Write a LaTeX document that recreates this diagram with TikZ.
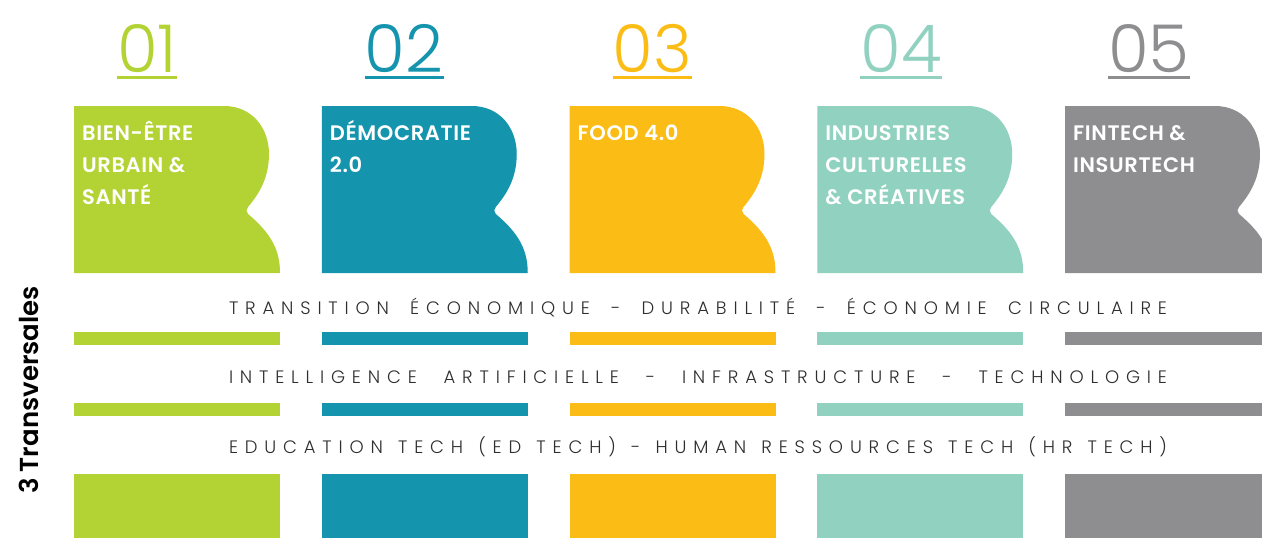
\documentclass[tikz,border=0pt]{standalone}
\usepackage{fontspec}
\setmainfont{Poppins}
\IfFontExistsTF{Poppins Light}{%
  \newfontfamily\numfont{Poppins Light}
  \newfontfamily\rowfont{Poppins Light}[LetterSpace=38]
}{%
  \newfontfamily\numfont{Poppins}
  \newfontfamily\rowfont{Poppins}[LetterSpace=38]
}
\IfFontExistsTF{Poppins SemiBold}{%
  \newfontfamily\lblfont{Poppins SemiBold}
  \newfontfamily\tagfont{Poppins SemiBold}[LetterSpace=3]
}{%
  \newcommand\lblfont{\bfseries}
  \newcommand\tagfont{\bfseries}
}
\definecolor{cgreen}{HTML}{B3D334}
\definecolor{cteal}{HTML}{1594AE}
\definecolor{cyellow}{HTML}{FBBC15}
\definecolor{cmint}{HTML}{91D1BF}
\definecolor{cgray}{HTML}{8E8E90}
\definecolor{rowgray}{HTML}{2E2E2E}
\begin{document}
\begin{tikzpicture}[x=1pt,y=-1pt,
    num/.style={font=\numfont\fontsize{66}{66}\selectfont,inner sep=0pt,anchor=base west},
    lbl/.style={font=\tagfont\fontsize{21}{32}\selectfont,text=white,inner sep=0pt,anchor=base west},
    row/.style={font=\rowfont\fontsize{18}{18}\selectfont,text=rowgray,inner sep=0pt,anchor=base},
    side/.style={font=\lblfont\fontsize{26}{26}\selectfont,rotate=90,inner sep=0pt}]
    \clip (0,0) rectangle (1262,538);
    %% Themes
    \foreach \i/\c/\t in {1/cgreen/{BIEN-ÊTRE\\URBAIN \&\\SANTÉ},
                          2/cteal/{DÉMOCRATIE\\2.0},
                          3/cyellow/{FOOD 4.0},
                          4/cmint/{INDUSTRIES\\CULTURELLES\\\& CRÉATIVES},
                          5/cgray/{FINTECH \&\\INSURTECH}}{
        \pgfmathsetmacro\x{74+247.75*(\i-1)}
        %% Number
        \node[num,text=\c] (n\i) at (\x+43,72) {0\i};
        \draw[\c,line width=3pt] ([yshift=-5pt]n\i.base west) -- ([yshift=-5pt]n\i.base east);
        %% Block
        \fill[\c,shift={(\x,106)}] (0,0) -- (150,0)
            .. controls (178,0) and (195,22) .. (195,48)
            .. controls (195,72) and (185,88) .. (174,101)
            .. controls (172,103) and (172,106) .. (174,108)
            .. controls (198,128) and (206,145) .. (206,167) -- (0,167) -- cycle;
        \node[lbl] (t\i) at (\x+8,140) {\begin{tabular}[t]{@{}l@{}}\t\end{tabular}};
        %% Bands
        \fill[\c] (\x,332) rectangle ++(206,13);
        \fill[\c] (\x,403) rectangle ++(206,13);
        \fill[\c] (\x,474) rectangle ++(206,70);
    }
    %% Transversal lines
    \node[row] (r1) at (698,314) {\makebox[938pt][s]{TRANSITION ÉCONOMIQUE - DURABILITÉ - ÉCONOMIE CIRCULAIRE}};
    \node[row] (r2) at (698,383) {\makebox[938pt][s]{INTELLIGENCE ARTIFICIELLE - INFRASTRUCTURE - TECHNOLOGIE}};
    \node[row] (r3) at (698,453) {\makebox[938pt][s]{EDUCATION TECH (ED TECH) - HUMAN RESSOURCES TECH (HR TECH)}};
    %% Side label
    \node[side] (s) at (29,390) {3 Transversales};
\end{tikzpicture}
\end{document}
